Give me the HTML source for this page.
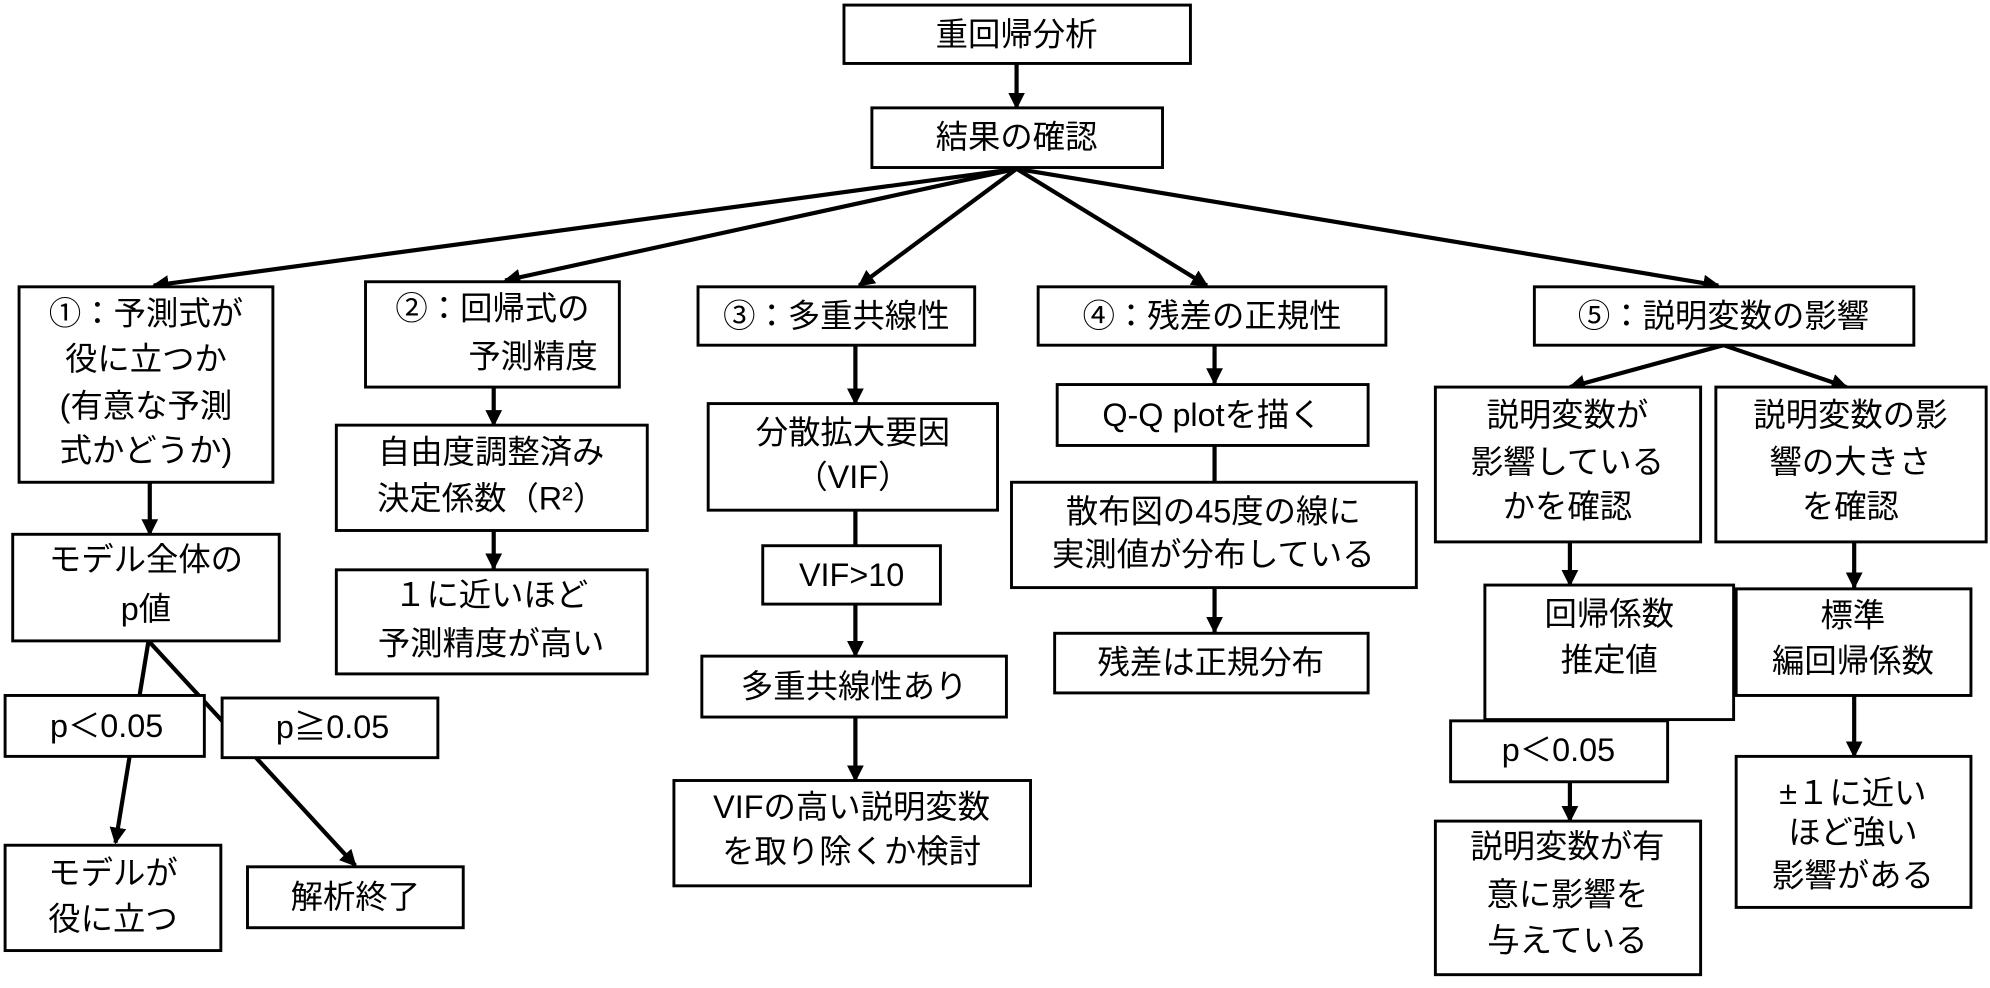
<!DOCTYPE html>
<html><head><meta charset="utf-8"><style>
html,body{margin:0;padding:0;background:#fff;}
svg{display:block;}
text{font-family:"Liberation Sans","Noto Sans CJK JP",sans-serif;font-size:25.5px;fill:#000;text-anchor:middle;dominant-baseline:central;}
rect{fill:#fff;stroke:#000;stroke-width:2.3;}
line{stroke:#000;stroke-width:3.3;}
</style></head><body>
<svg width="1990" height="988" viewBox="0 0 1568 778.5" xmlns="http://www.w3.org/2000/svg">
<defs><marker id="a" viewBox="0 0 10 10" refX="9" refY="5" markerWidth="4" markerHeight="4" orient="auto" markerUnits="strokeWidth"><path d="M0,0 L10,5 L0,10 z" fill="#000"/></marker></defs>
<line x1="801" y1="50" x2="801" y2="85" marker-end="url(#a)"/>
<line x1="801" y1="133" x2="121" y2="225" marker-end="url(#a)" stroke-width="4"/>
<line x1="801" y1="133" x2="398" y2="221" marker-end="url(#a)" stroke-width="4"/>
<line x1="801" y1="133" x2="677" y2="225" marker-end="url(#a)" stroke-width="4"/>
<line x1="801" y1="133" x2="951" y2="225" marker-end="url(#a)" stroke-width="4"/>
<line x1="801" y1="133" x2="1354" y2="225" marker-end="url(#a)" stroke-width="4"/>
<line x1="118" y1="380" x2="118" y2="421" marker-end="url(#a)"/>
<line x1="117" y1="505" x2="91" y2="664" marker-end="url(#a)"/>
<line x1="117" y1="505" x2="280" y2="682" marker-end="url(#a)"/>
<line x1="389" y1="305" x2="389" y2="335" marker-end="url(#a)"/>
<line x1="389" y1="418" x2="389" y2="448" marker-end="url(#a)"/>
<line x1="674" y1="272" x2="674" y2="318" marker-end="url(#a)"/>
<line x1="674" y1="402" x2="674" y2="430"/>
<line x1="674" y1="476" x2="674" y2="517" marker-end="url(#a)"/>
<line x1="674" y1="565" x2="674" y2="615" marker-end="url(#a)"/>
<line x1="957" y1="272" x2="957" y2="302" marker-end="url(#a)"/>
<line x1="957" y1="351" x2="957" y2="380"/>
<line x1="957" y1="463" x2="957" y2="498" marker-end="url(#a)"/>
<line x1="1358" y1="272" x2="1237" y2="305" marker-end="url(#a)" stroke-width="4"/>
<line x1="1358" y1="272" x2="1455" y2="305" marker-end="url(#a)" stroke-width="4"/>
<line x1="1237" y1="427" x2="1237" y2="461" marker-end="url(#a)"/>
<line x1="1237" y1="567" x2="1237" y2="580"/>
<line x1="1237" y1="616" x2="1237" y2="647" marker-end="url(#a)"/>
<line x1="1461" y1="427" x2="1461" y2="463" marker-end="url(#a)"/>
<line x1="1461" y1="548" x2="1461" y2="596" marker-end="url(#a)"/>
<rect x="665" y="4" width="273" height="46"/><text x="801" y="27">重回帰分析</text>
<rect x="687" y="85" width="229" height="47"/><text x="801" y="108">結果の確認</text>
<rect x="15" y="226" width="200" height="154"/>
<text x="115" y="247">①：予測式が</text><text x="115" y="283">役に立つか</text><text x="115" y="320">(有意な予測</text><text x="115" y="355">式かどうか)</text>
<rect x="288" y="222" width="200" height="83"/>
<text x="388" y="243">②：回帰式の</text><text x="420" y="281">予測精度</text>
<rect x="550" y="226" width="218" height="46"/><text x="659" y="249">③：多重共線性</text>
<rect x="818" y="226" width="274" height="46"/><text x="955" y="249">④：残差の正規性</text>
<rect x="1209" y="226" width="299" height="46"/><text x="1358" y="249">⑤：説明変数の影響</text>
<rect x="10" y="421" width="210" height="84"/><text x="115" y="441">モデル全体の</text><text x="115" y="480">p値</text>
<rect x="4" y="548" width="157" height="48"/><text x="84" y="572">p＜0.05</text>
<rect x="175" y="550" width="170" height="47"/><text x="262" y="573">p≧0.05</text>
<rect x="4" y="666" width="170" height="83"/><text x="89" y="688">モデルが</text><text x="89" y="724">役に立つ</text>
<rect x="195" y="683" width="170" height="48"/><text x="280" y="707">解析終了</text>
<rect x="265" y="335" width="245" height="83"/><text x="387" y="356">自由度調整済み</text><text x="387" y="393">決定係数（R²）</text>
<rect x="265" y="449" width="245" height="82"/><text x="387" y="469">１に近いほど</text><text x="387" y="507">予測精度が高い</text>
<rect x="558" y="318" width="228" height="84"/><text x="672" y="341">分散拡大要因</text><text x="672" y="376">（VIF）</text>
<rect x="601" y="430" width="140" height="46"/><text x="671" y="453">VIF&gt;10</text>
<rect x="553" y="517" width="240" height="48"/><text x="673" y="541">多重共線性あり</text>
<rect x="531" y="615" width="281" height="83"/><text x="671" y="636">VIFの高い説明変数</text><text x="671" y="671">を取り除くか検討</text>
<rect x="833" y="303" width="245" height="48"/><text x="955" y="327">Q-Q plotを描く</text>
<rect x="797" y="380" width="319" height="83"/><text x="956" y="403">散布図の45度の線に</text><text x="956" y="437">実測値が分布している</text>
<rect x="831" y="499" width="247" height="47"/><text x="954" y="522">残差は正規分布</text>
<rect x="1131" y="305" width="209" height="122"/><text x="1235" y="327">説明変数が</text><text x="1235" y="364">影響している</text><text x="1235" y="399">かを確認</text>
<rect x="1352" y="305" width="213" height="122"/><text x="1458" y="327">説明変数の影</text><text x="1458" y="364">響の大きさ</text><text x="1458" y="399">を確認</text>
<rect x="1170" y="461" width="196" height="106"/><text x="1268" y="484">回帰係数</text><text x="1268" y="520">推定値</text>
<rect x="1143" y="568" width="171" height="48"/><text x="1228" y="591">p＜0.05</text>
<rect x="1131" y="647" width="209" height="121"/><text x="1235" y="667">説明変数が有</text><text x="1235" y="705">意に影響を</text><text x="1235" y="741">与えている</text>
<rect x="1368" y="464" width="185" height="84"/><text x="1460" y="485">標準</text><text x="1460" y="521">編回帰係数</text>
<rect x="1368" y="596" width="185" height="119"/><text x="1460" y="625">±１に近い</text><text x="1460" y="656">ほど強い</text><text x="1460" y="690">影響がある</text>
</svg>
</body></html>
